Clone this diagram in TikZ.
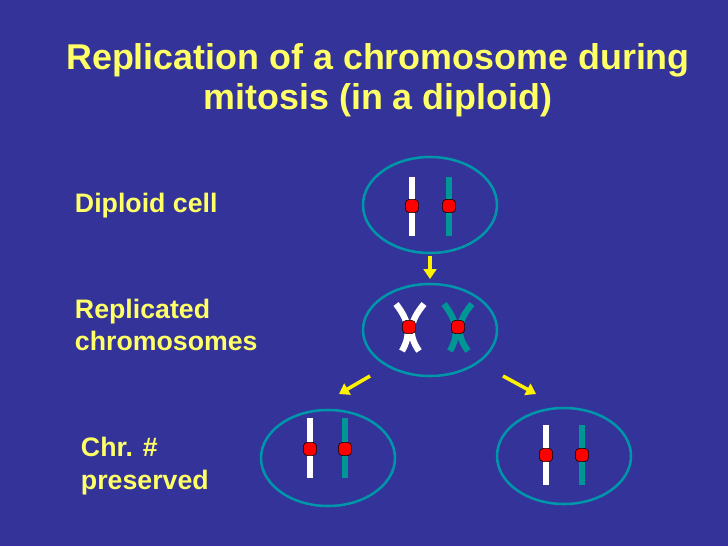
\documentclass[tikz,border=0pt]{standalone}
\usepackage{fontspec}
\setmainfont{Liberation Sans}
\definecolor{slideblue}{RGB}{51,51,153}
\definecolor{slideyellow}{RGB}{255,255,102}
\definecolor{chrteal}{RGB}{0,150,150}
\definecolor{cellteal}{RGB}{0,150,170}
\tikzset{
  cell/.style={draw=cellteal, line width=1.8pt},
  chrw/.style={draw=white, line width=4.5pt},
  chrt/.style={draw=chrteal, line width=4.5pt},
  centro/.style={fill=red, draw=black, line width=0.4pt, rounded corners=3pt, minimum size=9.5pt, inner sep=0pt},
  label/.style={text=slideyellow, font=\bfseries\fontsize{19}{23}\selectfont, align=left, anchor=west},
  yarrow/.style={-{Triangle[length=7pt,width=9pt]}, draw=yellow, line width=2.5pt}
}
\usetikzlibrary{arrows.meta}
\begin{document}
\begin{tikzpicture}[x=0.025cm,y=-0.025cm]
\fill[slideblue] (0,0) rectangle (728,546);
\useasboundingbox (0,0) rectangle (728,546);
% title
\node (title) [text=slideyellow, font=\bfseries\fontsize{25.5}{28.5}\selectfont, align=center] at (378,80)
  {Replication of a chromosome during\\mitosis (in a diploid)};
% labels
\node (lbla) [label] at (70,206) {Diploid cell};
\node (lblb) [label] at (70,325) {Replicated\\chromosomes};
\node (lblc) [label] at (76,466) {Chr. \#\\preserved};
% cells
\draw[cell] (430,205) ellipse (67 and 48);
\draw[cell] (430,330) ellipse (67 and 46);
\draw[cell] (328,458) ellipse (67 and 48);
\draw[cell] (564,456) ellipse (67 and 48);
% diploid cell
\draw[chrw] (412,177) -- (412,236);
\draw[chrt] (449,177) -- (449,236);
\node[centro] (ca) at (412,206) {};
\node[centro] (cb) at (449,206) {};
% replicated
\draw[chrw] (396,304) .. controls (410,322) and (411,335) .. (402,351);
\draw[chrw] (424,304) .. controls (409,322) and (408,335) .. (419,351);
\draw[chrt] (444,304) .. controls (458,322) and (459,335) .. (450,351);
\draw[chrt] (472,304) .. controls (457,322) and (456,335) .. (468,351);
\node[centro] (cc) at (409,327) {};
\node[centro] (cd) at (458,327) {};
% daughter cells
\draw[chrw] (310,418) -- (310,478);
\draw[chrt] (345,418) -- (345,478);
\node[centro] (ce) at (310,449) {};
\node[centro] (cf) at (345,449) {};
\draw[chrw] (546,425) -- (546,485);
\draw[chrt] (582,425) -- (582,485);
\node[centro] (cg) at (546,455) {};
\node[centro] (ch) at (582,455) {};
% arrows
\coordinate (a1) at (430,256); \coordinate (a2) at (430,279);
\coordinate (b1) at (370,376); \coordinate (b2) at (339,394);
\coordinate (c1) at (503,376); \coordinate (c2) at (536,394);
\draw[yarrow] (a1) -- (a2);
\draw[yarrow] (b1) -- (b2);
\draw[yarrow] (c1) -- (c2);
\end{tikzpicture}
\end{document}
